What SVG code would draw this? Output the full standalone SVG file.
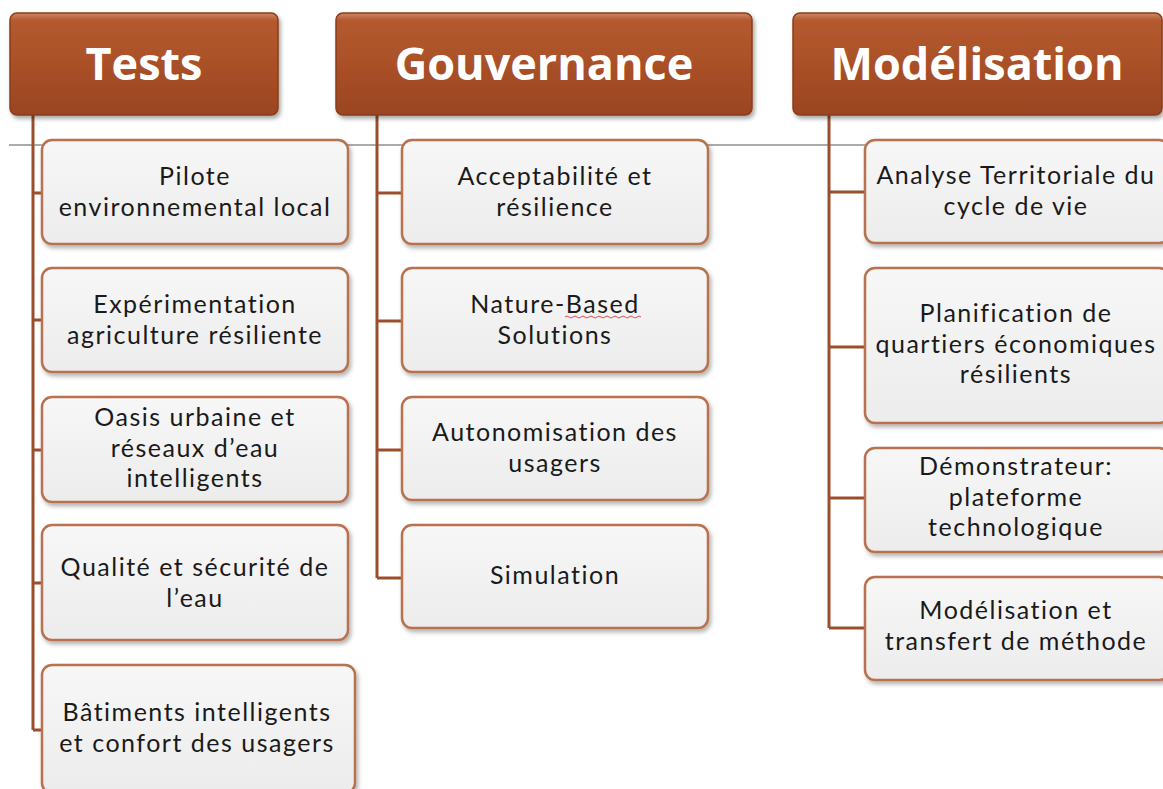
<svg xmlns="http://www.w3.org/2000/svg" width="1163" height="789" viewBox="0 0 1163 789">
<style>
.hdr{fill:url(#hg);stroke:#8a3c1a;stroke-width:1.5;filter:url(#sh)}
.ht{font-family:"Open Sans","DejaVu Sans",sans-serif;font-weight:bold;font-size:45px;fill:#ffffff;text-anchor:middle}
.box{fill:url(#bg);stroke:#b8724f;stroke-width:2.5;filter:url(#sh2)}
.bt{font-family:Lato,"Open Sans",sans-serif;font-size:25px;letter-spacing:1.5px;fill:#1a1a1a;text-anchor:middle}
.con{stroke:#9b4e2c;stroke-width:3;fill:none}
</style>
<defs>
<linearGradient id="hg" x1="0" y1="0" x2="0" y2="1">
<stop offset="0" stop-color="#d08a68"/>
<stop offset="0.07" stop-color="#b45a2f"/>
<stop offset="0.5" stop-color="#aa5028"/>
<stop offset="1" stop-color="#9a4520"/>
</linearGradient>
<linearGradient id="bg" x1="0" y1="0" x2="0" y2="1">
<stop offset="0" stop-color="#f7f7f7"/>
<stop offset="1" stop-color="#ececec"/>
</linearGradient>
<filter id="sh" x="-10%" y="-10%" width="120%" height="130%">
<feDropShadow dx="2" dy="3" stdDeviation="2" flood-color="#000" flood-opacity="0.35"/>
</filter>
<filter id="sh2" x="-10%" y="-10%" width="120%" height="130%">
<feDropShadow dx="2" dy="3" stdDeviation="2" flood-color="#000" flood-opacity="0.3"/>
</filter>
</defs>
<rect width="1163" height="789" fill="#ffffff"/>
<line x1="9" y1="145" x2="1163" y2="145" stroke="#8f8f8f" stroke-width="1.5"/>

<g id="connectors">
<path class="con" d="M33,115 V730 M33,193 H42 M33,320 H42 M33,450 H42 M33,583 H42 M33,730 H42"/>
<path class="con" d="M377,115 V578 M377,193 H402 M377,321 H402 M377,450 H402 M377,578 H402"/>
<path class="con" d="M829,115 V628 M829,192 H865 M829,347 H865 M829,498 H865 M829,628 H865"/>
</g>

<g id="h-tests"><rect class="hdr" x="10" y="13" width="268" height="102" rx="7"/><text class="ht" x="144" y="80">Tests</text></g>
<g id="h-gouvernance"><rect class="hdr" x="336" y="13" width="416" height="102" rx="7"/><text class="ht" x="544" y="80">Gouvernance</text></g>
<g id="h-modelisation"><rect class="hdr" x="793" y="13" width="369" height="102" rx="7"/><text class="ht" x="977" y="80">Modélisation</text></g>

<g id="t1"><rect class="box" x="42" y="140" width="306" height="104" rx="10"/><text class="bt" x="195" y="185">Pilote<tspan x="195" dy="30.5">environnemental local</tspan></text></g>
<g id="t2"><rect class="box" x="42" y="268" width="306" height="104" rx="10"/><text class="bt" x="195" y="313">Expérimentation<tspan x="195" dy="30.5">agriculture résiliente</tspan></text></g>
<g id="t3"><rect class="box" x="42" y="397" width="306" height="105" rx="10"/><text class="bt" x="195" y="426">Oasis urbaine et<tspan x="195" dy="30.5">réseaux d’eau</tspan><tspan x="195" dy="30.5">intelligents</tspan></text></g>
<g id="t4"><rect class="box" x="42" y="525" width="306" height="115" rx="10"/><text class="bt" x="195" y="576">Qualité et sécurité de<tspan x="195" dy="31">l’eau</tspan></text></g>
<g id="t5"><rect class="box" x="42" y="665" width="313" height="128" rx="10"/><text class="bt" x="197" y="721">Bâtiments intelligents<tspan x="197" dy="30.5">et confort des usagers</tspan></text></g>

<g id="g1"><rect class="box" x="402" y="140" width="306" height="104" rx="10"/><text class="bt" x="555" y="185">Acceptabilité et<tspan x="555" dy="30.5">résilience</tspan></text></g>
<g id="g2"><rect class="box" x="402" y="268" width="306" height="104" rx="10"/><text class="bt" x="555" y="313">Nature-Based<tspan x="555" dy="30.5">Solutions</tspan></text><path d="M565,317 q2,-2 4,0 t4,0 t4,0 t4,0 t4,0 t4,0 t4,0 t4,0 t4,0 t4,0 t4,0 t4,0 t4,0 t4,0 t4,0 t4,0 t4,0 t4,0 t4,0" fill="none" stroke="#e05050" stroke-width="1"/></g>
<g id="g3"><rect class="box" x="402" y="397" width="306" height="103" rx="10"/><text class="bt" x="555" y="441">Autonomisation des<tspan x="555" dy="30.5">usagers</tspan></text></g>
<g id="g4"><rect class="box" x="402" y="525" width="306" height="103" rx="10"/><text class="bt" x="555" y="584">Simulation</text></g>

<g id="m1"><rect class="box" x="865" y="140" width="304" height="103" rx="10"/><text class="bt" x="1016" y="184">Analyse Territoriale du<tspan x="1016" dy="30.5">cycle de vie</tspan></text></g>
<g id="m2"><rect class="box" x="865" y="268" width="304" height="155" rx="10"/><text class="bt" x="1016" y="322">Planification de<tspan x="1016" dy="30.5">quartiers économiques</tspan><tspan x="1016" dy="30.5">résilients</tspan></text></g>
<g id="m3"><rect class="box" x="865" y="448" width="304" height="104" rx="10"/><text class="bt" x="1016" y="475">Démonstrateur:<tspan x="1016" dy="30.5">plateforme</tspan><tspan x="1016" dy="30.5">technologique</tspan></text></g>
<g id="m4"><rect class="box" x="865" y="577" width="304" height="103" rx="10"/><text class="bt" x="1016" y="619">Modélisation et<tspan x="1016" dy="30.5">transfert de méthode</tspan></text></g>
</svg>
